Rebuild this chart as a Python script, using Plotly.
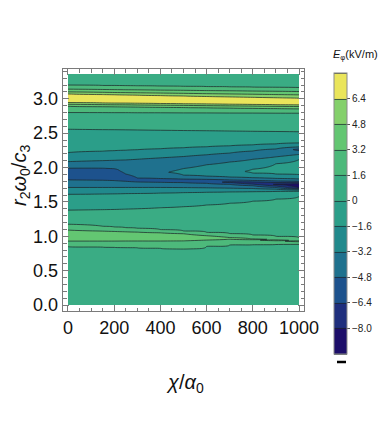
import numpy as np
import plotly.graph_objects as go

# chi/alpha0 columns at which the E_phi profile was read
chi_cols = [0, 150, 200, 250, 300, 400, 500, 600, 700, 800, 900, 1000]

prof_0000 = [(0.0, 0.8), (0.85, 1.6), (0.93, 3.2), (1.01, 4.3), (1.09, 3.2), (1.175, 1.6), (1.278, 0.8),
             (1.38, 0.0), (1.61, -1.6), (1.71, -3.2), (1.82, -4.8), (1.905, -5.9), (1.99, -4.8),
             (2.086, -3.2), (2.217, -1.6), (2.557, 0.0), (2.68, 0.8), (2.80, 1.6), (2.89, 3.2),
             (2.92, 4.8), (2.945, 6.4), (3.007, 7.6), (3.07, 6.4), (3.10, 4.8), (3.14, 3.2),
             (3.20, 1.6), (3.36, 0.8)]
prof_0150 = [(0.0, 0.8), (0.842, 1.6), (0.930, 3.2), (1.003, 4.3), (1.075, 3.2), (1.146, 1.6), (1.266, 0.8),
             (1.387, 0.0), (1.615, -1.6), (1.71, -3.2), (1.815, -4.8), (1.90, -5.9), (1.99, -4.8),
             (2.10, -3.2), (2.238, -1.6), (2.551, 0.0), (2.675, 0.8), (2.799, 1.6), (2.884, 3.2),
             (2.915, 4.8), (2.940, 6.4), (3.000, 7.63), (3.061, 6.4), (3.094, 4.8), (3.135, 3.2),
             (3.194, 1.6), (3.36, 0.8)]
prof_0200 = [(0.0, 0.8), (0.839, 1.6), (0.930, 3.2), (1.000, 4.3), (1.070, 3.2), (1.136, 1.6), (1.263, 0.8),
             (1.39, 0.0), (1.617, -1.6), (1.71, -3.2), (1.81, -4.8), (1.885, -5.85), (1.983, -4.8),
             (2.105, -3.2), (2.245, -1.6), (2.55, 0.0), (2.674, 0.8), (2.798, 1.6), (2.883, 3.2),
             (2.913, 4.8), (2.938, 6.4), (2.998, 7.64), (3.058, 6.4), (3.091, 4.8), (3.133, 3.2),
             (3.193, 1.6), (3.36, 0.8)]
prof_0250 = [(0.0, 0.8), (0.835, 1.6), (0.931, 3.2), (0.998, 4.3), (1.065, 3.2), (1.126, 1.6), (1.26, 0.8),
             (1.395, 0.0), (1.62, -1.6), (1.71, -3.2), (1.80, -4.8), (1.85, -5.75), (1.905, -4.8),
             (1.95, -4.45), (2.02, -4.55), (2.11, -3.2), (2.252, -1.6), (2.548, 0.0), (2.673, 0.8),
             (2.798, 1.6), (2.881, 3.2), (2.912, 4.8), (2.937, 6.4), (2.995, 7.65), (3.055, 6.4),
             (3.089, 4.8), (3.131, 3.2), (3.191, 1.6), (3.36, 0.8)]
prof_0300 = [(0.0, 0.8), (0.832, 1.6), (0.931, 3.2), (0.996, 4.3), (1.060, 3.2), (1.117, 1.6), (1.258, 0.8),
             (1.40, 0.0), (1.622, -1.6), (1.71, -3.2), (1.79, -4.8), (1.82, -5.6), (1.848, -4.8),
             (1.93, -3.9), (2.03, -4.2), (2.12, -3.2), (2.259, -1.6), (2.546, 0.0), (2.671, 0.8),
             (2.797, 1.6), (2.879, 3.2), (2.910, 4.8), (2.935, 6.4), (2.993, 7.66), (3.052, 6.4),
             (3.087, 4.8), (3.130, 3.2), (3.189, 1.6), (3.36, 0.8)]
prof_0400 = [(0.0, 0.8), (0.825, 1.6), (0.931, 3.2), (0.991, 4.3), (1.050, 3.2), (1.097, 1.6), (1.256, 0.8),
             (1.415, 0.0), (1.628, -1.6), (1.71, -3.2), (1.785, -4.8), (1.812, -5.7), (1.84, -4.8),
             (1.93, -3.35), (2.06, -4.2), (2.14, -3.2), (2.273, -1.6), (2.542, 0.0), (2.669, 0.8),
             (2.796, 1.6), (2.875, 3.2), (2.907, 4.8), (2.931, 6.4), (2.988, 7.68), (3.046, 6.4),
             (3.083, 4.8), (3.126, 3.2), (3.185, 1.6), (3.36, 0.8)]
prof_0500 = [(0.0, 0.8), (0.815, 1.6), (0.933, 3.2), (0.985, 4.3), (1.037, 3.2), (1.078, 1.6), (1.254, 0.8),
             (1.43, 0.0), (1.635, -1.6), (1.708, -3.2), (1.78, -4.8), (1.805, -5.9), (1.832, -4.8),
             (1.89, -3.2), (1.935, -2.9), (1.985, -3.2), (2.08, -4.2), (2.16, -3.2), (2.288, -1.6),
             (2.538, 0.0), (2.667, 0.8), (2.795, 1.6), (2.872, 3.2), (2.904, 4.8), (2.928, 6.4),
             (2.984, 7.7), (3.040, 6.4), (3.079, 4.8), (3.123, 3.2), (3.182, 1.6), (3.36, 0.8)]
prof_0600 = [(0.0, 0.8), (0.852, 1.6), (0.945, 3.2), (0.977, 4.3), (1.008, 3.2), (1.058, 1.6), (1.257, 0.8),
             (1.455, 0.0), (1.64, -1.6), (1.705, -3.2), (1.77, -4.8), (1.797, -6.15), (1.828, -4.8),
             (1.875, -3.2), (1.94, -2.4), (2.04, -3.2), (2.12, -4.2), (2.185, -3.2), (2.302, -1.6),
             (2.535, 0.0), (2.665, 0.8), (2.794, 1.6), (2.868, 3.2), (2.900, 4.8), (2.925, 6.4),
             (2.979, 7.72), (3.033, 6.4), (3.074, 4.8), (3.119, 3.2), (3.178, 1.6), (3.36, 0.8)]
prof_0700 = [(0.0, 0.8), (0.873, 1.6), (0.957, 3.2), (0.969, 4.0), (0.981, 3.2), (1.039, 1.6), (1.26, 0.8),
             (1.48, 0.0), (1.645, -1.6), (1.70, -3.2), (1.755, -4.8), (1.787, -6.8), (1.82, -4.8),
             (1.862, -3.2), (1.94, -1.85), (2.08, -3.2), (2.15, -4.35), (2.21, -3.2), (2.316, -1.6),
             (2.531, 0.0), (2.662, 0.8), (2.793, 1.6), (2.864, 3.2), (2.897, 4.8), (2.921, 6.4),
             (2.974, 7.74), (3.027, 6.4), (3.070, 4.8), (3.116, 3.2), (3.174, 1.6), (3.36, 0.8)]
prof_0800 = [(0.0, 0.8), (0.877, 1.6), (0.950, 3.2), (0.956, 3.6), (0.962, 3.2), (1.019, 1.6), (1.265, 0.8),
             (1.51, 0.0), (1.648, -1.6), (1.695, -3.2), (1.735, -4.8), (1.775, -7.5), (1.812, -4.8),
             (1.852, -3.2), (1.92, -1.6), (1.945, -1.45), (1.975, -1.6), (2.12, -3.2), (2.19, -4.55),
             (2.24, -3.2), (2.33, -1.6), (2.527, 0.0), (2.66, 0.8), (2.792, 1.6), (2.860, 3.2),
             (2.894, 4.8), (2.918, 6.4), (2.969, 7.76), (3.021, 6.4), (3.066, 4.8), (3.112, 3.2),
             (3.170, 1.6), (3.36, 0.8)]
prof_0900 = [(0.0, 0.8), (0.880, 1.6), (0.9355, 3.2), (0.9415, 3.6), (0.9475, 3.2), (1.0, 1.6), (1.27, 0.8),
             (1.54, 0.0), (1.652, -1.6), (1.685, -3.2), (1.71, -4.8), (1.755, -8.3), (1.805, -4.8),
             (1.842, -3.2), (1.905, -1.6), (1.98, -1.3), (2.055, -1.6), (2.155, -3.2), (2.23, -4.75),
             (2.27, -3.2), (2.344, -1.6), (2.524, 0.0), (2.657, 0.8), (2.791, 1.6), (2.857, 3.2),
             (2.890, 4.8), (2.914, 6.4), (2.965, 7.78), (3.015, 6.4), (3.061, 4.8), (3.109, 3.2),
             (3.167, 1.6), (3.36, 0.8)]
prof_1000 = [(0.0, 0.8), (0.883, 1.6), (0.921, 3.2), (0.927, 3.6), (0.933, 3.2), (0.98, 1.6), (1.279, 0.8),
             (1.577, 0.0), (1.655, -1.6), (1.672, -3.2), (1.685, -4.8), (1.695, -6.4), (1.705, -8.0),
             (1.735, -9.0), (1.765, -8.0), (1.785, -6.4), (1.80, -4.8), (1.834, -3.2), (1.897, -1.6),
             (2.005, -1.0), (2.115, -1.6), (2.19, -3.2), (2.262, -5.25), (2.30, -3.2), (2.358, -1.6),
             (2.52, 0.0), (2.655, 0.8), (2.79, 1.6), (2.853, 3.2), (2.887, 4.8), (2.911, 6.4),
             (2.960, 7.8), (3.009, 6.4), (3.057, 4.8), (3.105, 3.2), (3.163, 1.6), (3.36, 0.8)]

profiles = [prof_0000, prof_0150, prof_0200, prof_0250, prof_0300, prof_0400,
            prof_0500, prof_0600, prof_0700, prof_0800, prof_0900, prof_1000]

# contour levels / colour bands (bottom to top)
level_start, level_end, level_step = -9.6, 8.0, 1.6
band_colors = ['#1C0E69', '#1F2F7D', '#1D528D', '#1F718E', '#21898C', '#2B9E89',
               '#3AAC84', '#4DB97B', '#63C672', '#84D06B', '#EAE55B']
cbar_tickvals = [-8.0, -6.4, -4.8, -3.2, -1.6, 0.0, 1.6, 3.2, 4.8, 6.4]
cbar_ticktext = ['\u22128.0', '\u22126.4', '\u22124.8', '\u22123.2', '\u22121.6', '0',
                 '1.6', '3.2', '4.8', '6.4']
x_tickvals = [0, 200, 400, 600, 800, 1000]
y_tickvals = [0.0, 0.5, 1.0, 1.5, 2.0, 2.5, 3.0]

# table for the contour trace, built from the read profiles
y_grid = np.linspace(0.0, 3.36, 1681)
z_table = np.array([np.interp(y_grid, [p[0] for p in prof], [p[1] for p in prof])
                    for prof in profiles]).T

nb = len(band_colors)
colorscale = []
for k, c in enumerate(band_colors):
    colorscale.append([k / nb, c])
    colorscale.append([(k + 1) / nb, c])

# pixel geometry helpers (figure 386x437, frame 63..304 x 69..311)
L, R, T, B = 63, 304, 69, 311
def px(xp):
    return (xp - L) / (R - L)
def py(yp):
    return (B - yp) / (B - T)

fig = go.Figure(go.Contour(
    x=chi_cols, y=y_grid, z=z_table,
    zmin=level_start, zmax=level_end, zauto=False,
    contours=dict(start=level_start, end=level_end, size=level_step,
                  coloring='fill', showlines=True),
    line=dict(color='rgba(28,38,40,0.8)', width=0.9, smoothing=1),
    colorscale=colorscale,
    colorbar=dict(
        x=px(334), xanchor='left', xpad=0,
        y=py(213.5), yanchor='middle', ypad=0,
        len=281, lenmode='pixels', thickness=13,
        outlinewidth=1, outlinecolor='#8a8a8a',
        tickmode='array', tickvals=cbar_tickvals, ticktext=cbar_ticktext,
        ticks='outside', ticklen=3, tickcolor='#555555', tickwidth=1,
        tickfont=dict(family='Liberation Sans, Arial', size=10, color='#222222'),
    ),
    hoverinfo='skip',
))

axis_common = dict(
    showgrid=False, zeroline=False, showline=True, linecolor='#7a7a7a', linewidth=1.3,
    mirror='allticks', ticks='inside', tickcolor='#7a7a7a', tickwidth=1, ticklen=6,
    tickfont=dict(family='Liberation Sans, Arial', size=18, color='#111111'),
    automargin=False,
)

fig.update_xaxes(range=[-21.6, 1021.6], tickmode='array', tickvals=x_tickvals,
                 minor=dict(dtick=50, tick0=0, ticks='inside', ticklen=3.5,
                            tickcolor='#7a7a7a', tickwidth=1),
                 **axis_common)
fig.update_yaxes(range=[-0.087, 3.433], tickmode='array', tickvals=y_tickvals,
                 ticktext=['%.1f' % v for v in y_tickvals],
                 minor=dict(dtick=0.1, tick0=0, ticks='inside', ticklen=3.5,
                            tickcolor='#7a7a7a', tickwidth=1),
                 **axis_common)

title_font = dict(family='Liberation Sans, Arial', size=20, color='#111111')
fig.update_layout(
    width=386, height=437,
    margin=dict(l=L, r=386 - R, t=T, b=437 - B, pad=0, autoexpand=False),
    paper_bgcolor='white', plot_bgcolor='white',
    showlegend=False,
    annotations=[
        dict(text='<i>\u03c7</i>/<i>\u03b1</i><sub>0</sub>', xref='paper', yref='paper',
             x=px(185), y=py(383), xanchor='center', yanchor='middle', showarrow=False,
             font=title_font),
        dict(text='<i>r</i><sub>2</sub><i>\u03c9</i><sub>0</sub>/<i>c</i><sub>3</sub>',
             xref='paper', yref='paper', x=px(20), y=py(176), textangle=-90,
             xanchor='center', yanchor='middle', showarrow=False, font=title_font),
        dict(text='<i>E</i><sub>\u03c6</sub>(kV/m)', xref='paper', yref='paper',
             x=px(355), y=py(55), xanchor='center', yanchor='middle', showarrow=False,
             font=dict(family='Liberation Sans, Arial', size=11, color='#111111')),
    ],
    shapes=[
        dict(type='line', xref='paper', yref='paper', x0=px(337), x1=px(346),
             y0=py(362), y1=py(362), line=dict(color='black', width=2.5)),
    ],
)

fig.write_html('out.html',
               config={'displayModeBar': False, 'staticPlot': True},
               post_script="document.body.style.margin='0';document.body.style.padding='0';"
                           "document.body.style.overflow='hidden';")
